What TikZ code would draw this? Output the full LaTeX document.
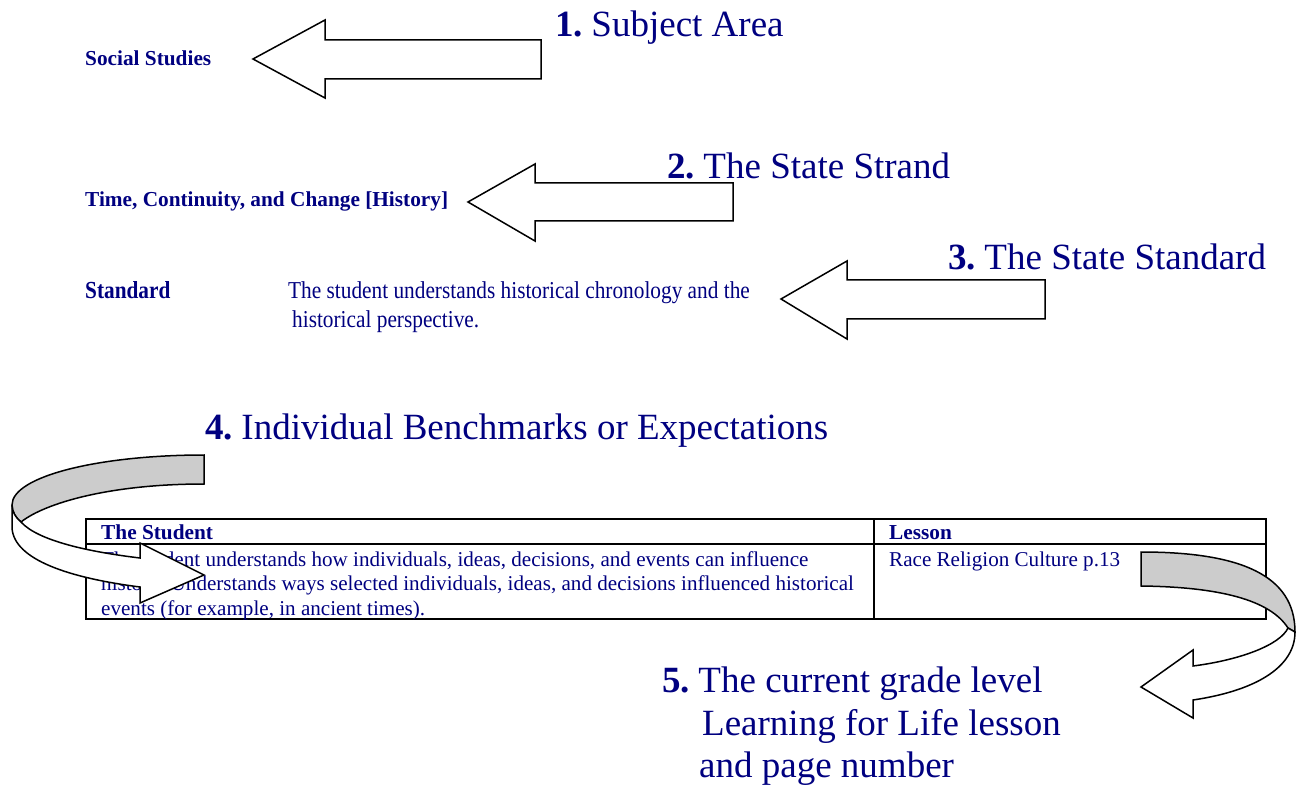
\documentclass[tikz,border=0pt]{standalone}
\usepackage{fontspec}
\setmainfont{Liberation Serif}
\definecolor{navy}{HTML}{000080}
\definecolor{bandgrey}{HTML}{CCCCCC}
\newcommand{\numgap}{\hspace{0.23em}}
\begin{document}
\begin{tikzpicture}[x=1pt,y=-1pt,
  lbl/.style={anchor=base west, inner sep=0pt, text=navy, font=\fontsize{21.3}{25}\selectfont\bfseries},
  body/.style={anchor=base west, inner sep=0pt, text=navy, font=\fontsize{21.1}{25}\selectfont},
  big/.style={anchor=base west, inner sep=0pt, text=navy, font=\fontsize{37}{42}\selectfont},
  blockarrow/.style={draw=black, fill=white, line width=1.5pt, line join=miter},
  backband/.style={draw=black, fill=bandgrey, line width=1.5pt},
  grid/.style={draw=black, line width=2pt}]
\useasboundingbox (0,0) rectangle (1296,786);

% headings and their labels
\node[lbl] (subject) at (85,66) {Social Studies};
\node[big] (h1) at (555,37) {\textbf{1.}\numgap Subject Area};
\draw[blockarrow] (253,59) -- (325,20) -- (325,40) -- (541,40) -- (541,79) -- (325,79) -- (325,98) -- cycle;

\node[lbl] (strand) at (85,207) {Time, Continuity, and Change [History]};
\node[big] (h2) at (667,179) {\textbf{2.}\numgap The State Strand};
\draw[blockarrow] (468,202) -- (535,164) -- (535,183) -- (733,183) -- (733,221) -- (535,221) -- (535,241) -- cycle;

\node[lbl] (stdlabel) at (85,299) {\scalebox{1}[1.15]{Standard}};
\node[body] (std1) at (288,299) {\scalebox{1.01}[1.15]{The student understands historical chronology and the}};
\node[body] (std2) at (292,328) {\scalebox{1.01}[1.15]{historical perspective.}};
\node[big] (h3) at (948,270) {\textbf{3.}\numgap The State Standard};
\draw[blockarrow] (781,299) -- (847,261) -- (847,280) -- (1045,280) -- (1045,319) -- (847,319) -- (847,339) -- cycle;

\node[big] (h4) at (205,439) {\textbf{4.}\numgap Individual Benchmarks or Expectations};

% benchmark table
\draw[grid] (86,519) rectangle (1266,619);
\draw[grid] (86,544) -- (1266,544);
\draw[grid] (874,519) -- (874,619);
\node[lbl] (colA) at (101,539) {The Student};
\node[lbl] (colB) at (889,539) {Lesson};
\node[body] (row1) at (101,566) {The student understands how individuals, ideas, decisions, and events can influence};
\node[body] (row2) at (101,590.5) {history. Understands ways selected individuals, ideas, and decisions influenced historical};
\node[body] (row3) at (101,615) {events (for example, in ancient times).};
\node[body] (lesson) at (889,566) {Race Religion Culture p.13};

% curved arrow into the benchmark text
\draw[backband] (204,455) .. controls (100,455) and (12,476) .. (12,505)
  .. controls (12,512) and (16,518) .. (21,522)
  .. controls (45,503) and (110,484) .. (204,484) -- cycle;
\draw[blockarrow] (12,505) -- (12,528) .. controls (14,560) and (70,578) .. (140,587)
  -- (140,603) -- (204,575) -- (140,543) -- (140,558)
  .. controls (90,552) and (38,541) .. (21,522)
  .. controls (16,518) and (12,512) .. (12,505) -- cycle;

% curved arrow out of the lesson column
\draw[backband] (1141,552) .. controls (1240,552) and (1295,575) .. (1295,632)
  -- (1288,628) .. controls (1270,600) and (1220,587) .. (1141,586) -- cycle;
\draw[blockarrow] (1295,632) .. controls (1295,665) and (1260,690) .. (1193,700)
  -- (1193,718) -- (1141,687) -- (1193,650) -- (1193,666)
  .. controls (1240,660) and (1280,645) .. (1288,628) -- cycle;

\node[big] (h5a) at (662,692) {\textbf{5.}\numgap The current grade level};
\node[big] (h5b) at (702,735) {Learning for Life lesson};
\node[big] (h5c) at (699,777) {and page number};
\end{tikzpicture}
\end{document}
